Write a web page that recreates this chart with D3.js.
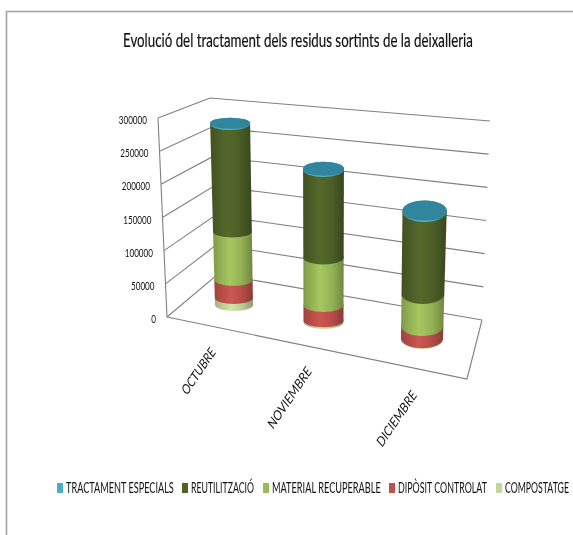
<!DOCTYPE html>
<html><head><meta charset="utf-8">
<script src="https://cdn.jsdelivr.net/npm/d3@7"></script>
<style>html,body{margin:0;padding:0;background:#fff}svg{display:block;filter:blur(0.35px)}</style>
</head><body><div id="c"></div>
<script>
// ---- data ----
const categories = ["OCTUBRE", "NOVIEMBRE", "DICIEMBRE"];
const seriesNames = ["COMPOSTATGE", "DIPÒSIT CONTROLAT", "MATERIAL RECUPERABLE", "REUTILITZACIÓ", "TRACTAMENT ESPECIALS"];
const compostatge = [11000, 3000, 1500];
const diposit = [29000, 25000, 21000];
const material = [77000, 79000, 56000];
const reutilitzacio = [171000, 145000, 143000];
const tractament = [2000, 2000, 2500];
const tickValues = [0, 50000, 100000, 150000, 200000, 250000, 300000];
const title = "Evolució del tractament dels residus sortints de la deixalleria";
const colors = ["#c3d69b", "#c0504d", "#9bbb59", "#4f6228", "#4bacc6"];

// ---- layout ----
const W = 573, H = 535, MAX = 300000;
const FONT = "Lato,'Liberation Sans',sans-serif";
const svg = d3.select("#c").append("svg").attr("width", W).attr("height", H);
const defs = svg.append("defs");
const scale = r => d3.scaleLinear().domain([0, MAX]).range(r);
const flX = scale([167, 158]), flY = scale([317, 118]);
const blX = scale([218, 210]), blY = scale([274, 98]);
const brX = scale([482, 490]), brY = scale([320, 121]);
const front = {x: 467, y: 379};
const frames = [
  {cx: scale([234, 230]), y: scale([305, 117]), rx: scale([19, 20]), ry: scale([6, 5.5])},
  {cx: scale([323.5, 323.5]), y: scale([322, 141]), rx: scale([20, 20.5]), ry: scale([7, 7])},
  {cx: scale([422, 425.5]), y: scale([339, 167]), rx: scale([21, 22.5]), ry: scale([10, 10])}
];

// squeeze a text horizontally to a measured width, keeping its height
function fit(sel, x, y, width, rotate, skew) {
  sel.each(function () {
    const natural = this.getComputedTextLength();
    const sx = width / natural;
    const r = rotate ? ` rotate(${rotate})` : "";
    const k = skew ? ` skewX(${skew})` : "";
    d3.select(this).attr("transform", `translate(${x},${y})${r}${k} scale(${sx},1)`);
  });
  return sel;
}

const line = d3.line();
const grid = svg.append("g").attr("fill", "none").attr("stroke", "#808080").attr("stroke-width", 1.1);
// picture border: left and top only
svg.append("path").attr("d", line([[6.5, H], [6.5, 11.5], [W, 11.5]])).attr("fill", "none")
  .attr("stroke", "#a0a0a0").attr("stroke-width", 1.6);

tickValues.forEach(v => {
  grid.append("path").attr("d", line([[flX(v), flY(v)], [blX(v), blY(v)], [brX(v), brY(v)]]));
});
grid.append("path").attr("d", line([[flX(0), flY(0)], [flX(MAX), flY(MAX)]]));
grid.append("path").attr("d", line([[flX(0), flY(0)], [front.x, front.y], [brX(0), brY(0)]]));

// tick labels
tickValues.forEach(v => {
  const s = String(v);
  const t = svg.append("text").attr("text-anchor", "start")
    .attr("font-family", FONT).attr("font-size", 12).attr("fill", "#111").text(s);
  const w = s.length * 4.7;
  fit(t, flX(v) - 11 - w, flY(v) + 6, w);
});

// gradients
function gradient(id, c) {
  const g = defs.append("linearGradient").attr("id", id).attr("x1", 0).attr("x2", 1).attr("y1", 0).attr("y2", 0);
  const col = d3.color(c);
  [[0, 0.82], [0.12, 0.9], [0.42, 1.07], [0.72, 0.95], [1, 0.72]].forEach(([o, k]) => {
    const r = d3.rgb(col.r * k, col.g * k, col.b * k);
    g.append("stop").attr("offset", o).attr("stop-color", r.formatHex());
  });
}
colors.forEach((c, i) => gradient("g" + i, c));

const series = [compostatge, diposit, material, reutilitzacio, tractament];
const stackData = categories.map((cat, i) => {
  let acc = 0;
  return series.map((s, k) => { const seg = {k, from: acc, to: acc + s[i]}; acc += s[i]; return seg; });
});

stackData.forEach((segs, i) => {
  const f = frames[i];
  const g = svg.append("g");
  segs.forEach(seg => {
    const x0 = f.cx(seg.from), y0 = f.y(seg.from), rx0 = f.rx(seg.from), ry0 = f.ry(seg.from);
    const x1 = f.cx(seg.to), y1 = f.y(seg.to), rx1 = f.rx(seg.to), ry1 = f.ry(seg.to);
    g.append("path")
      .attr("d", `M${x0 - rx0},${y0} A${rx0},${ry0} 0 0 0 ${x0 + rx0},${y0} L${x1 + rx1},${y1} A${rx1},${ry1} 0 0 0 ${x1 - rx1},${y1} Z`)
      .attr("fill", `url(#g${seg.k})`);
  });
  const top = segs[segs.length - 1];
  g.append("ellipse")
    .attr("cx", f.cx(top.to)).attr("cy", f.y(top.to))
    .attr("rx", f.rx(top.to)).attr("ry", f.ry(top.to))
    .attr("fill", "#31859c");
});

// category labels: anchored at their lower-left start
const catStarts = [[187, 396], [273, 430], [382, 448]];
const catLengths = [52, 70, 63];
categories.forEach((c, i) => {
  const t = svg.append("text").attr("font-family", FONT)
    .attr("font-size", 12.5).attr("fill", "#111").text(c);
  fit(t, catStarts[i][0], catStarts[i][1], catLengths[i], -56, -14);
});

// title
fit(svg.append("text").attr("font-family", FONT).attr("font-size", 18.5).attr("fill", "#111")
  .attr("stroke", "#111").attr("stroke-width", 0.2).text(title), 123, 47, 350);

// legend (reverse series order): swatch x, text x, text width
const legendPos = [[57, 66, 108], [182, 191, 63], [263, 272, 109], [389, 398, 89], [496, 505, 64]];
d3.reverse(seriesNames).forEach((name, i) => {
  const p = legendPos[i];
  svg.append("rect").attr("x", p[0]).attr("y", 483).attr("width", 6).attr("height", 10)
    .attr("fill", colors[4 - i]);
  fit(svg.append("text").attr("font-family", FONT).attr("font-size", 14.5).attr("fill", "#111").text(name),
    p[1], 493, p[2]);
});
</script></body></html>
